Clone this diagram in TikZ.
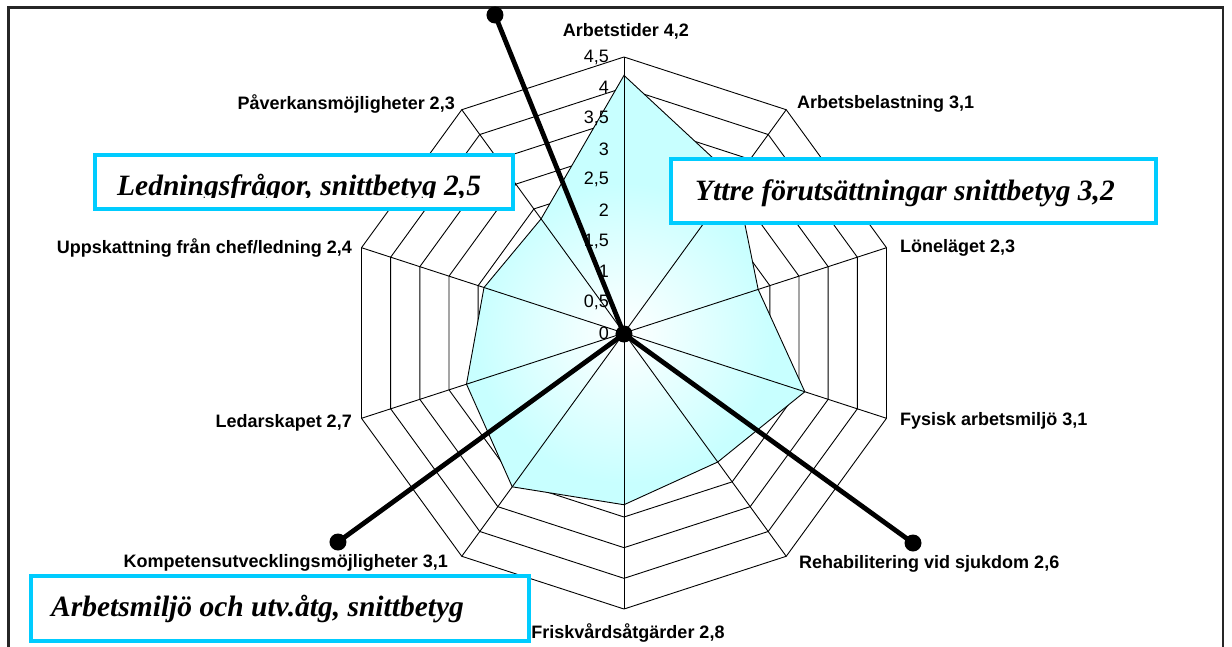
\documentclass[tikz,border=0pt]{standalone}
\usepackage{fontspec}
\setmainfont{Liberation Serif}
\setsansfont{Liberation Sans}

\definecolor{boxblue}{RGB}{0,204,255}
\definecolor{fillcyan}{RGB}{200,255,255}

\begin{document}
\begin{tikzpicture}[x=1pt,y=1pt,
  grid/.style={line width=0.9pt},
  axislabel/.style={font=\sffamily\bfseries\fontsize{18}{21}\selectfont,inner sep=0pt},
  ticklabel/.style={font=\sffamily\fontsize{18}{21}\selectfont,inner sep=0pt,anchor=east},
  infobox/.style={draw=boxblue,line width=3.5pt,fill=white,anchor=north west,inner sep=0pt,outer sep=0pt},
  boxtext/.style={font=\rmfamily\bfseries\itshape\fontsize{29.5}{34}\selectfont,inner sep=0pt,anchor=base west},
  pointer/.style={line width=4.8pt},
  blob/.style={circle,fill=black,minimum size=17pt,inner sep=0pt}]

  \useasboundingbox (-624,-313) rectangle (608,333);
  \clip (-624,-313) rectangle (608,333);

  % chart frame, bottom edge runs off the page
  \draw[black!85,line width=2.2pt] (-615.5,-330) -- (-615.5,325.5) -- (599,325.5) -- (599,-330);

  \foreach \i in {0,...,9} {
    \coordinate (v\i) at ({90-36*\i}:276);
  }

  % rings 0,5 ... 4,5
  \foreach \r in {1,...,9} {
    \draw[grid] (90:{\r*30.667}) \foreach \i in {1,...,9} { -- ({90-36*\i}:{\r*30.667}) } -- cycle;
  }

  \foreach \v [count=\i from 0] in {4.2,3.1,2.3,3.1,2.6,2.8,3.1,2.7,2.4,2.3} {
    \coordinate (d\i) at ({90-36*\i}:{\v*61.333});
  }

  \fill[fillcyan] (d0) -- (d1) -- (d2) -- (d3) -- (d4) -- (d5) -- (d6) -- (d7) -- (d8) -- (d9) -- cycle;
  \begin{scope}
    \clip (d0) -- (d1) -- (d2) -- (d3) -- (d4) -- (d5) -- (d6) -- (d7) -- (d8) -- (d9) -- cycle;
    \shade[inner color=white,outer color=fillcyan] (0,0) circle (150);
  \end{scope}
  \draw[grid] (d0) -- (d1) -- (d2) -- (d3) -- (d4) -- (d5) -- (d6) -- (d7) -- (d8) -- (d9) -- cycle;

  \foreach \i in {0,...,9} {
    \draw[grid] (0,0) -- (v\i);
  }

  \foreach \t [count=\k from 0] in {0,{0,5},1,{1,5},2,{2,5},3,{3,5},4,{4,5}} {
    \node[ticklabel] (t\k) at (-15,{\k*30.667}) {\t};
  }

  \node[axislabel,anchor=base] (arbetstider) at (2,296) {Arbetstider 4,2};
  \node[axislabel,anchor=base west] (belastning) at (173,225) {Arbetsbelastning 3,1};
  \node[axislabel,anchor=base west] (lonelaget) at (276,81) {Löneläget 2,3};
  \node[axislabel,anchor=base west] (fysisk) at (276,-92) {Fysisk arbetsmiljö 3,1};
  \node[axislabel,anchor=base west] (rehab) at (175,-235) {Rehabilitering vid sjukdom 2,6};
  \node[axislabel,anchor=base] (frisk) at (4,-305) {Friskvårdsåtgärder 2,8};
  \node[axislabel,anchor=base east] (kompetens) at (-176,-234) {Kompetensutvecklingsmöjligheter 3,1};
  \node[axislabel,anchor=base east] (ledarskap) at (-272,-94) {Ledarskapet 2,7};
  \node[axislabel,anchor=base east] (uppskattning) at (-272,80) {Uppskattning från chef/ledning 2,4};
  \node[axislabel,anchor=base east] (paverkan) at (-169,223) {Påverkansmöjligheter 2,3};

  % text boxes
  \node[infobox,minimum width=418pt,minimum height=54pt] (ledning) at (-529,178) {};
  \begin{scope}
    \clip (ledning.north west) rectangle ([yshift=12pt]ledning.south east);
    \node[boxtext] (ledningtext) at ([xshift=22pt,yshift=-40pt]ledning.north west) {Ledningsfrågor, snittbetyg 2,5};
  \end{scope}
  \node[infobox,minimum width=485pt,minimum height=64pt] (yttre) at (47,174) {};
  \node[boxtext] (yttretext) at ([xshift=24pt,yshift=-41pt]yttre.north west) {Yttre förutsättningar snittbetyg 3,2};
  \node[infobox,minimum width=498pt,minimum height=65pt] (miljo) at (-593,-243) {};
  \node[boxtext] (miljotext) at ([xshift=20pt,yshift=-40pt]miljo.north west) {Arbetsmiljö och utv.åtg, snittbetyg};

  % dividers
  \node[blob] (hub) at (0,-1) {};
  \node[blob] (tipn) at (-129,318) {};
  \node[blob] (tipsw) at (-286,-209) {};
  \node[blob] (tipse) at (289,-210) {};
  \draw[pointer] (hub.center) -- (tipn.center);
  \draw[pointer] (hub.center) -- (tipsw.center);
  \draw[pointer] (hub.center) -- (tipse.center);
\end{tikzpicture}
\end{document}
